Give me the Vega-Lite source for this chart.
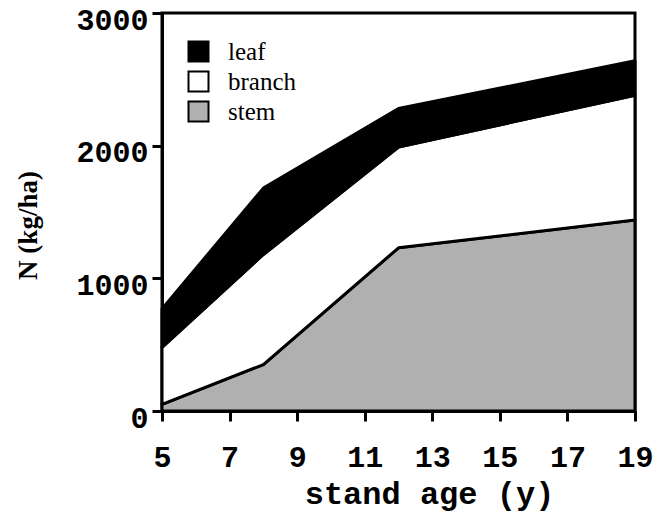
{
  "$schema": "https://vega.github.io/schema/vega-lite/v6.json",
  "width": 473,
  "height": 398,
  "autosize": "none",
  "padding": {"left": 162, "top": 13, "right": 33, "bottom": 101},
  "background": "white",
  "config": {
    "view": {"stroke": "black", "strokeWidth": 3},
    "axis": {"grid": false, "domainColor": "black", "domainWidth": 3, "tickColor": "black", "tickWidth": 3, "tickSize": 10,
             "labelFont": "Liberation Mono", "labelFontWeight": "bold", "labelFontSize": 30, "labelColor": "black",
             "titleColor": "black", "labelFlush": false, "labelOverlap": false}
  },
  "data": {"values": [
    {"age": 5, "part": "stem", "k": 1, "N": 50},
    {"age": 8, "part": "stem", "k": 1, "N": 350},
    {"age": 12, "part": "stem", "k": 1, "N": 1230},
    {"age": 19, "part": "stem", "k": 1, "N": 1440},
    {"age": 5, "part": "branch", "k": 2, "N": 430},
    {"age": 8, "part": "branch", "k": 2, "N": 830},
    {"age": 12, "part": "branch", "k": 2, "N": 760},
    {"age": 19, "part": "branch", "k": 2, "N": 940},
    {"age": 5, "part": "leaf", "k": 3, "N": 290},
    {"age": 8, "part": "leaf", "k": 3, "N": 500},
    {"age": 12, "part": "leaf", "k": 3, "N": 290},
    {"age": 19, "part": "leaf", "k": 3, "N": 260}
  ]},
  "mark": {"type": "area", "stroke": "black", "strokeWidth": 3, "strokeJoin": "round"},
  "encoding": {
    "x": {"field": "age", "type": "quantitative",
          "scale": {"domain": [5, 19], "nice": false},
          "axis": {"values": [5, 7, 9, 11, 13, 15, 17, 19], "labelPadding": 45, "labelBaseline": "alphabetic",
                   "title": "stand age (y)", "titleFont": "Liberation Mono", "titleFontWeight": "bold", "titleFontSize": 32,
                   "titleX": 267, "titleY": 92, "titleBaseline": "alphabetic", "titleAlign": "center"}},
    "y": {"field": "N", "type": "quantitative", "stack": "zero",
          "scale": {"domain": [0, 3000], "nice": false},
          "axis": {"values": [0, 1000, 2000, 3000], "format": "d", "labelPadding": 4, "labelBaseline": "alphabetic", "labelOffset": 16,
                   "title": "N (kg/ha)", "titleFont": "Liberation Serif", "titleFontWeight": "bold", "titleFontSize": 27,
                   "titleX": -134, "titleY": 212, "titleBaseline": "middle", "titleAlign": "center", "titleAngle": -90}},
    "order": {"field": "k", "type": "quantitative"},
    "color": {"field": "part", "type": "nominal",
              "scale": {"domain": ["leaf", "branch", "stem"], "range": ["black", "white", "#b0b0b0"]},
              "legend": {"title": null, "orient": "none", "legendX": 24, "legendY": 26, "padding": 0,
                         "symbolType": "square", "symbolSize": 400, "symbolStrokeColor": "black", "symbolStrokeWidth": 2,
                         "symbolOpacity": 1,
                         "labelFont": "Liberation Serif", "labelFontSize": 25, "labelColor": "black", "labelOffset": 17,
                         "rowPadding": 1}}
  }
}
